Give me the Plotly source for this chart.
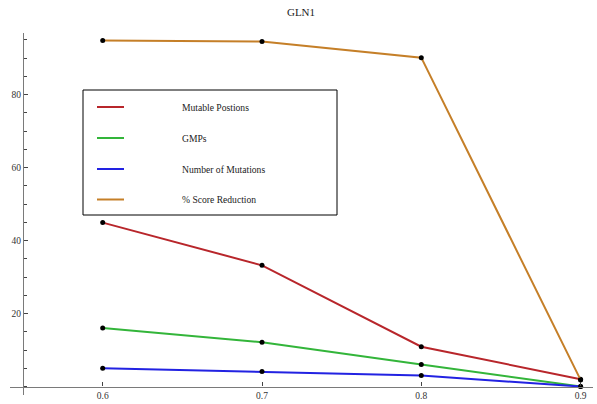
import plotly.graph_objects as go

# ---- data ----
thresholds = [0.6, 0.7, 0.8, 0.9]
mutable_positions = [44.9, 33.2, 10.9, 2.0]
gmps = [16.0, 12.1, 6.0, 0.0]
num_mutations = [5.0, 4.1, 3.0, 0.0]
score_reduction = [94.8, 94.5, 90.1, 1.8]

series_names = ["Mutable Postions", "GMPs", "Number of Mutations", "% Score Reduction"]
series_values = [mutable_positions, gmps, num_mutations, score_reduction]
series_colors = ["#B8262B", "#33B53A", "#2222E2", "#C57F28"]

x_ticks = [0.6, 0.7, 0.8, 0.9]
y_ticks = [20, 40, 60, 80]

W, H = 597, 404
ML, MR, MT, MB = 10, 4, 33, 9
PW, PH = W - ML - MR, H - MT - MB

def px_x(p):
    return (p - ML) / PW

def px_y(p):
    return (H - MB - p) / PH

fig = go.Figure()
for name, vals, col in zip(series_names, series_values, series_colors):
    fig.add_trace(go.Scatter(
        x=thresholds, y=vals, mode="lines+markers", name=name,
        line=dict(color=col, width=2),
        marker=dict(color="black", size=5),
        showlegend=False,
    ))

serif = "Liberation Serif, Times New Roman, serif"

# manual legend box (Mathematica style)
shapes = [dict(type="rect", xref="paper", yref="paper",
               x0=px_x(83), x1=px_x(337), y0=px_y(215), y1=px_y(90),
               line=dict(color="black", width=1), fillcolor="white", layer="above")]
annotations = []
legend_rows = [107, 138, 169, 199.5]
for name, col, ry in zip(series_names, series_colors, legend_rows):
    shapes.append(dict(type="line", xref="paper", yref="paper",
                       x0=px_x(97), x1=px_x(124), y0=px_y(ry), y1=px_y(ry),
                       line=dict(color=col, width=2), layer="above"))
    annotations.append(dict(xref="paper", yref="paper", x=px_x(180), y=px_y(ry),
                            text=name, showarrow=False, xanchor="left", yanchor="middle",
                            font=dict(family=serif, size=9.6, color="#222")))

fig.update_layout(
    width=W, height=H,
    margin=dict(l=ML, r=MR, t=MT, b=MB),
    paper_bgcolor="white", plot_bgcolor="white",
    title=dict(text="GLN1", x=301 / W, xref="container", xanchor="center",
               y=1 - 12 / H, yref="container", yanchor="middle",
               font=dict(family=serif, size=11, color="#222")),
    shapes=shapes, annotations=annotations,
    xaxis=dict(range=[0.5418, 0.9078], tickvals=x_ticks, ticktext=[f"{v:.1f}" for v in x_ticks],
               showgrid=False, zeroline=False, showline=True, linecolor="#7a7a7a", linewidth=1.3,
               anchor="free", position=8.5 / PH,
               ticks="inside", ticklen=4, tickcolor="#444", tickwidth=1,
               tickfont=dict(family=serif, size=9.5, color="#333")),
    yaxis=dict(range=[-2.33, 96.85], tickvals=y_ticks,
               showgrid=False, zeroline=False, showline=True, linecolor="#7a7a7a", linewidth=1.3,
               anchor="free", position=px_x(23),
               ticks="inside", ticklen=4, tickcolor="#444", tickwidth=1,
               minor=dict(dtick=5, tick0=0, ticks="inside", ticklen=2.5, tickcolor="#444", showgrid=False),
               tickfont=dict(family=serif, size=9.5, color="#333")),
)

fig.write_html("out.html")
